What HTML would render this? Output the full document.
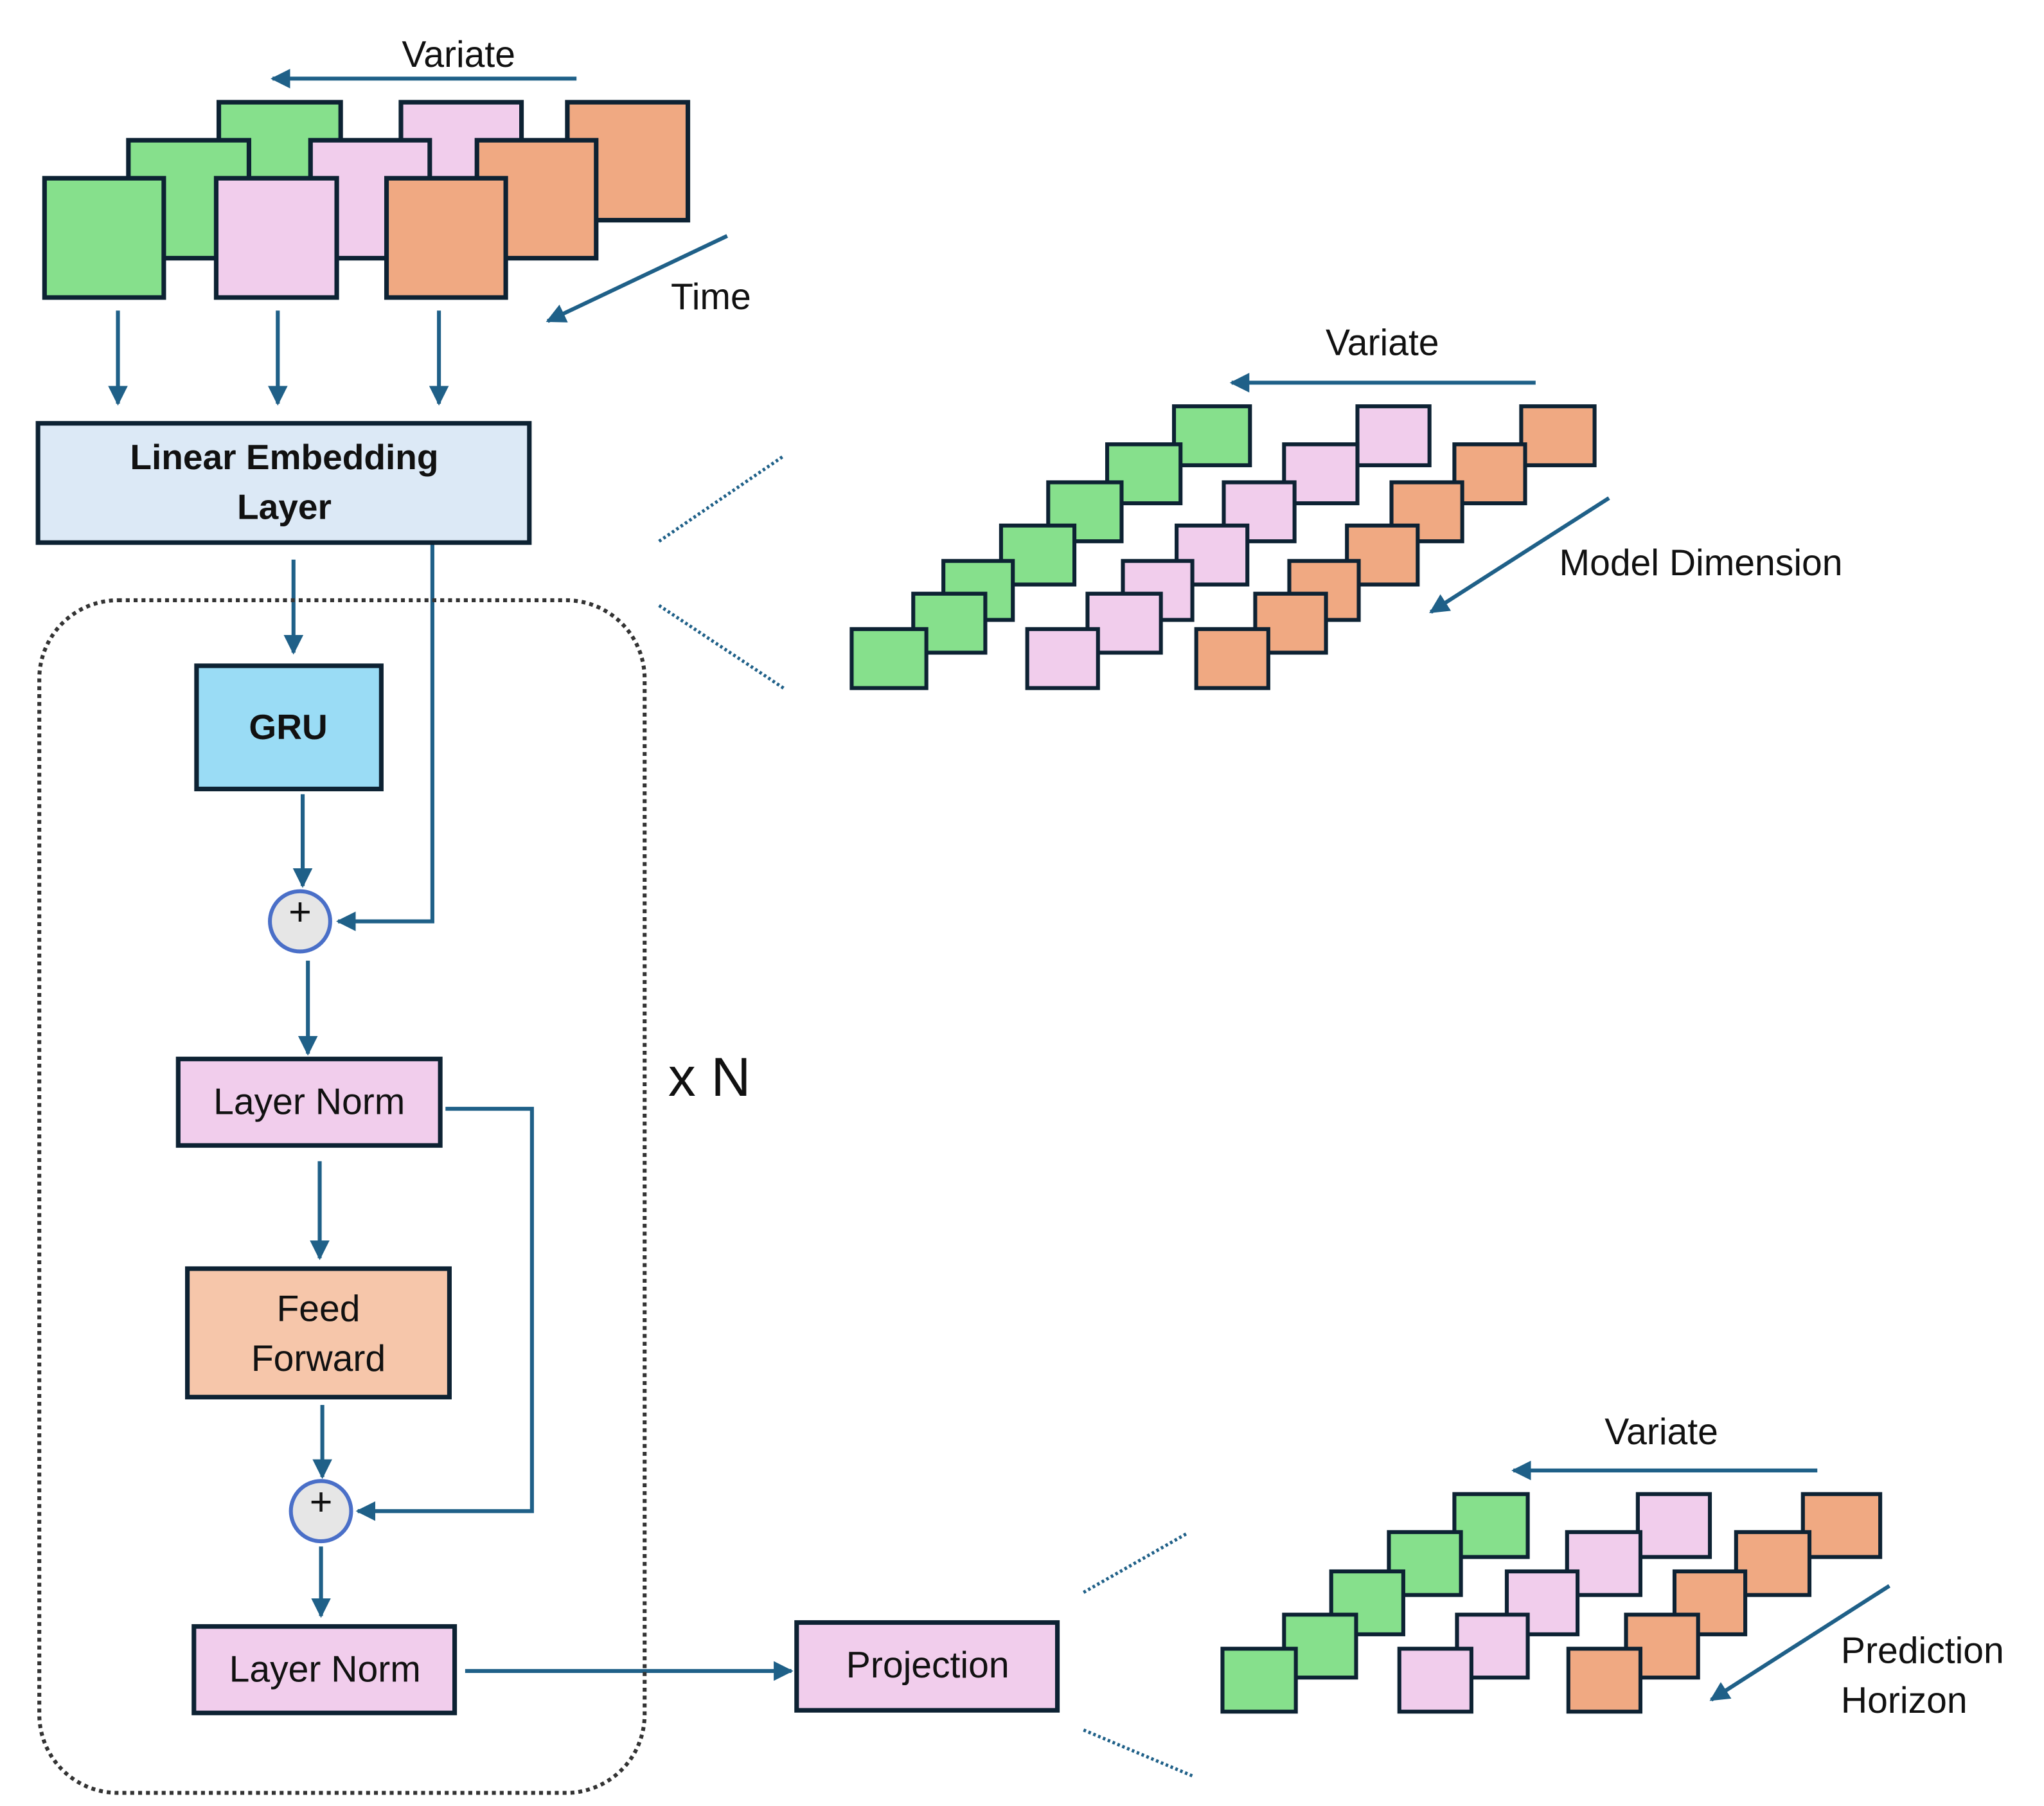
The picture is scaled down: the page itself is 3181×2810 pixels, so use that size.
<!DOCTYPE html>
<html><head><meta charset="utf-8"><style>html,body{margin:0;padding:0;background:#fff}svg{display:block}</style></head>
<body>
<svg width="3181" height="2810" viewBox="0 0 1560 1378" preserveAspectRatio="none" xmlns="http://www.w3.org/2000/svg" font-family="Liberation Sans, sans-serif">
<defs>
<marker id="a" viewBox="0 0 10 10" refX="9" refY="5" markerWidth="5" markerHeight="5" orient="auto"><path d="M0,0L10,5L0,10z" fill="#1f6088"/></marker>
</defs>
<g stroke="#0d2233" stroke-width="3.5">
<rect x="167" y="78" width="93" height="90" fill="#86e08c"/>
<rect x="306" y="78" width="92" height="90" fill="#f1cdec"/>
<rect x="433" y="78" width="92" height="90" fill="#f0a982"/>
<rect x="98" y="107" width="92" height="90" fill="#86e08c"/>
<rect x="237" y="107" width="91" height="90" fill="#f1cdec"/>
<rect x="364" y="107" width="91" height="90" fill="#f0a982"/>
<rect x="34" y="136" width="91" height="91" fill="#86e08c"/>
<rect x="165" y="136" width="92" height="91" fill="#f1cdec"/>
<rect x="295" y="136" width="91" height="91" fill="#f0a982"/>
</g>
<g stroke="#1f6088" stroke-width="3" fill="none" marker-end="url(#a)">
<line x1="440" y1="60" x2="208" y2="60"/>
<line x1="555" y1="180" x2="418" y2="245"/>
<line x1="90" y1="237" x2="90" y2="308"/>
<line x1="212" y1="237" x2="212" y2="308"/>
<line x1="335" y1="237" x2="335" y2="308"/>
<line x1="224" y1="427" x2="224" y2="498"/>
<polyline points="330,414 330,703 258,703"/>
<line x1="231" y1="606" x2="231" y2="676"/>
<line x1="235" y1="733" x2="235" y2="804"/>
<polyline points="340,846 406,846 406,1153 273,1153"/>
<line x1="244" y1="886" x2="244" y2="960"/>
<line x1="246" y1="1072" x2="246" y2="1127"/>
<line x1="245" y1="1180" x2="245" y2="1233"/>
<line x1="355" y1="1275" x2="604" y2="1275"/>
<line x1="1172" y1="292" x2="940" y2="292"/>
<line x1="1228" y1="380" x2="1092" y2="467"/>
<line x1="1387" y1="1122" x2="1155" y2="1122"/>
<line x1="1442" y1="1210" x2="1306" y2="1297"/>
</g>
<text x="350" y="51" font-size="28" text-anchor="middle" fill="#111">Variate</text>
<text x="512" y="236" font-size="28" fill="#111">Time</text>
<rect x="29" y="323" width="375" height="91" fill="#dce9f6" stroke="#0d2233" stroke-width="3.5"/>
<text x="217" y="358" font-size="27" font-weight="bold" text-anchor="middle" fill="#111">Linear Embedding</text>
<text x="217" y="396" font-size="27" font-weight="bold" text-anchor="middle" fill="#111">Layer</text>
<rect x="30" y="458" width="462" height="910" rx="60" fill="none" stroke="#333" stroke-width="3" stroke-dasharray="3,3"/>
<rect x="150" y="508" width="141" height="94" fill="#9adcf5" stroke="#0d2233" stroke-width="3.5"/>
<text x="220" y="564" font-size="27" font-weight="bold" text-anchor="middle" fill="#111">GRU</text>
<circle cx="229" cy="703" r="23" fill="#e6e6e6" stroke="#4a6fc8" stroke-width="3"/>
<text x="229" y="706" font-size="30" text-anchor="middle" fill="#111">+</text>
<rect x="136" y="808" width="200" height="66" fill="#f1cdec" stroke="#0d2233" stroke-width="3.5"/>
<text x="236" y="850" font-size="28" text-anchor="middle" fill="#111">Layer Norm</text>
<rect x="143" y="968" width="200" height="98" fill="#f6c6aa" stroke="#0d2233" stroke-width="3.5"/>
<text x="243" y="1008" font-size="28" text-anchor="middle" fill="#111">Feed</text>
<text x="243" y="1046" font-size="28" text-anchor="middle" fill="#111">Forward</text>
<circle cx="245" cy="1153" r="23" fill="#e6e6e6" stroke="#4a6fc8" stroke-width="3"/>
<text x="245" y="1156" font-size="30" text-anchor="middle" fill="#111">+</text>
<rect x="148" y="1241" width="199" height="66" fill="#f1cdec" stroke="#0d2233" stroke-width="3.5"/>
<text x="248" y="1283" font-size="28" text-anchor="middle" fill="#111">Layer Norm</text>
<rect x="608" y="1238" width="199" height="67" fill="#f1cdec" stroke="#0d2233" stroke-width="3.5"/>
<text x="708" y="1280" font-size="28" text-anchor="middle" fill="#111">Projection</text>
<text x="510" y="836" font-size="42" fill="#111">x N</text>
<g stroke="#1f6088" stroke-width="2.5" stroke-dasharray="2,2">
<line x1="503" y1="413" x2="598" y2="348"/>
<line x1="503" y1="462" x2="598" y2="525"/>
<line x1="827" y1="1215" x2="906" y2="1170"/>
<line x1="827" y1="1320" x2="910" y2="1355"/>
</g>
<g stroke="#0d2233" stroke-width="3">
<g fill="#86e08c">
<rect x="896" y="310" width="58" height="45"/><rect x="845" y="339" width="56" height="45"/><rect x="800" y="368" width="56" height="45"/><rect x="764" y="401" width="56" height="45"/><rect x="720" y="428" width="53" height="45"/><rect x="697" y="453" width="55" height="45"/><rect x="650" y="480" width="57" height="45"/>
</g>
<g fill="#f1cdec">
<rect x="1036" y="310" width="55" height="45"/><rect x="980" y="339" width="56" height="45"/><rect x="934" y="368" width="54" height="45"/><rect x="898" y="401" width="54" height="45"/><rect x="857" y="428" width="53" height="45"/><rect x="830" y="453" width="56" height="45"/><rect x="784" y="480" width="54" height="45"/>
</g>
<g fill="#f0a982">
<rect x="1161" y="310" width="56" height="45"/><rect x="1110" y="339" width="54" height="45"/><rect x="1062" y="368" width="54" height="45"/><rect x="1028" y="401" width="54" height="45"/><rect x="984" y="428" width="53" height="45"/><rect x="958" y="453" width="54" height="45"/><rect x="913" y="480" width="55" height="45"/>
</g>
<g fill="#86e08c">
<rect x="1110" y="1140" width="56" height="48"/><rect x="1060" y="1169" width="55" height="48"/><rect x="1016" y="1199" width="55" height="48"/><rect x="980" y="1232" width="55" height="48"/><rect x="933" y="1258" width="56" height="48"/>
</g>
<g fill="#f1cdec">
<rect x="1250" y="1140" width="55" height="48"/><rect x="1196" y="1169" width="56" height="48"/><rect x="1150" y="1199" width="54" height="48"/><rect x="1112" y="1232" width="54" height="48"/><rect x="1068" y="1258" width="55" height="48"/>
</g>
<g fill="#f0a982">
<rect x="1376" y="1140" width="59" height="48"/><rect x="1325" y="1169" width="56" height="48"/><rect x="1278" y="1199" width="54" height="48"/><rect x="1241" y="1232" width="55" height="48"/><rect x="1197" y="1258" width="55" height="48"/>
</g>
</g>
<text x="1055" y="271" font-size="28" text-anchor="middle" fill="#111">Variate</text>
<text x="1190" y="439" font-size="28" fill="#111">Model Dimension</text>
<text x="1268" y="1102" font-size="28" text-anchor="middle" fill="#111">Variate</text>
<text x="1405" y="1269" font-size="28" fill="#111">Prediction</text>
<text x="1405" y="1307" font-size="28" fill="#111">Horizon</text>
</svg>
</body></html>
